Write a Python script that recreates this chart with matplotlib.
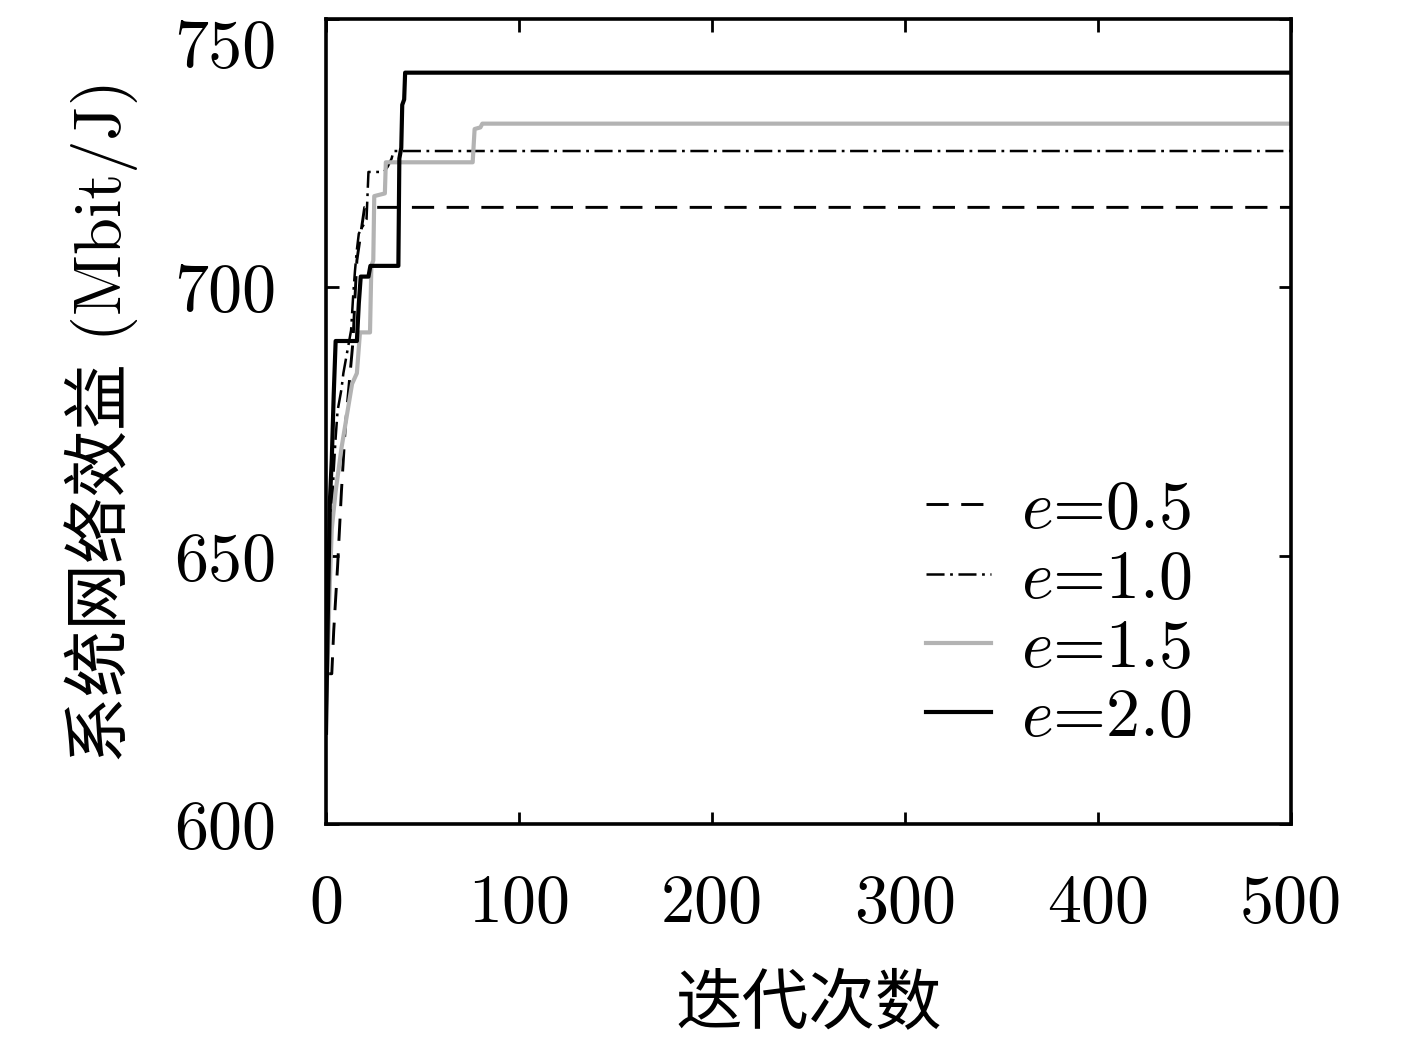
import matplotlib
matplotlib.use("Agg")
import matplotlib.pyplot as plt
import matplotlib.transforms as mtransforms

plt.rcParams['font.family'] = ['cmr10', 'Noto Sans CJK SC']
plt.rcParams['mathtext.fontset'] = 'cm'
plt.rcParams['axes.unicode_minus'] = False
plt.rcParams['lines.scale_dashes'] = False

# ---- data ----
e05_x = [0, 3, 4, 5, 6, 7, 8, 9, 10, 12, 14, 15, 16, 18, 20, 500]
e05_y = [628, 628, 636, 642, 648, 655, 662, 668, 674, 682, 690, 698, 705, 710, 714.9, 714.9]

e10_x = [0, 1, 2, 3, 4, 5, 6, 8, 9, 11, 13, 14, 15, 16, 17, 21, 22, 30, 32, 34, 35, 500]
e10_y = [624, 636, 648, 658, 666, 672, 677, 681, 684, 688, 692, 698, 703, 707, 710, 712.7,
         721.5, 721.5, 722.5, 724, 725.4, 725.4]

e15_x = [0, 1, 2, 3, 5, 8, 13.5, 16, 17.6, 22.8, 23.5, 24.5, 25, 30.5, 31, 76, 77, 80, 81, 500]
e15_y = [622, 632, 645, 655, 662, 670, 682, 684, 691.6, 691.6, 704, 705, 717, 717.5,
         723.3, 723.3, 729.5, 729.8, 730.5, 730.5]

e20_x = [0, 1, 2, 3, 4, 5, 16, 17, 18, 22, 23, 37.5, 38, 39, 39.5, 40.5, 41, 500]
e20_y = [617, 640, 660, 668, 680, 690, 690, 697, 702, 702, 704, 704, 724, 726, 734, 735, 740, 740]

labels = [r'$e$=0.5', r'$e$=1.0', r'$e$=1.5', r'$e$=2.0']
xticks = [0, 100, 200, 300, 400, 500]
yticks = [600, 650, 700, 750]

FS = 49

fig = plt.figure(figsize=(14.17, 10.42), dpi=100)
ax = fig.add_axes([326/1417, 1 - 824/1042, 965/1417, 805/1042])

ax.plot(e05_x, e05_y, color='black', lw=2.1, dashes=(16, 9), label=labels[0])
ax.plot(e10_x, e10_y, color='black', lw=1.8, dashes=(13, 4, 2, 4), label=labels[1])
ax.plot(e15_x, e15_y, color='#b3b3b3', lw=3.0, label=labels[2])
ax.plot(e20_x, e20_y, color='black', lw=3.0, label=labels[3])

ax.set_xlim(0, 500)
ax.set_ylim(600, 750)
ax.set_xticks(xticks)
ax.set_yticks(yticks)
ax.tick_params(axis='both', which='both', direction='in', length=9, width=2.0,
               top=True, right=True, labelsize=FS)
ax.tick_params(axis='x', pad=36)
ax.tick_params(axis='y', pad=36)
for s in ax.spines.values():
    s.set_linewidth(2.6)

# keep top y label inside the figure (as in the reference)
fig.canvas.draw()
for lab in ax.get_yticklabels():
    if abs(lab.get_position()[1] - 750) < 1e-6:
        lab.set_transform(lab.get_transform() +
                          mtransforms.ScaledTranslation(0, -24/100, fig.dpi_scale_trans))

ax.set_xlabel('迭代次数', fontsize=48, labelpad=29)
ax.set_ylabel('系统网络效益 (Mbit/J)', fontsize=48, labelpad=26)

leg = ax.legend(loc='upper left', bbox_to_anchor=(926/1417, 1 - 480/1042),
                bbox_transform=fig.transFigure, frameon=False, fontsize=FS,
                handlelength=0.95, handletextpad=0.45, labelspacing=0.12,
                borderpad=0, borderaxespad=0)

fig.savefig('out.png', dpi=100)
